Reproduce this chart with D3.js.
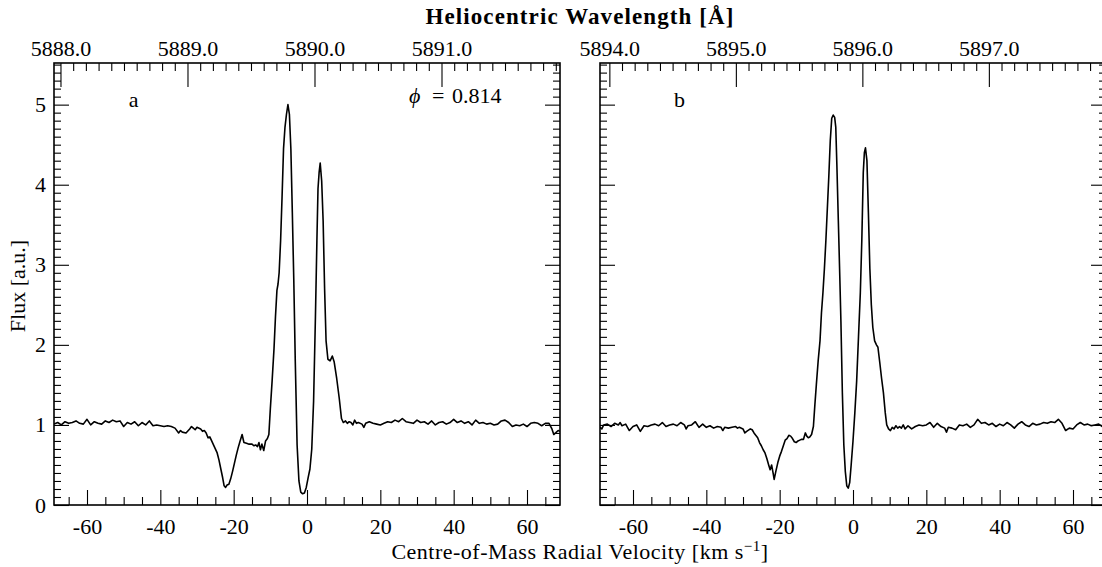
<!DOCTYPE html>
<html><head><meta charset="utf-8">
<script src="https://cdn.jsdelivr.net/npm/d3@7"></script>
<style>
body{margin:0;background:#fff}
svg{display:block}
text{font-family:"Liberation Serif","Times New Roman",serif;fill:#000}
</style>
</head><body><svg id="c" width="1102" height="567"></svg>
<script>
// ---------------- data ----------------
const velTicks = [-60,-40,-20,0,20,40,60];
const fluxTicks = [0,1,2,3,4,5];
const wlTicksA = [5888.0,5889.0,5890.0,5891.0];
const wlTicksB = [5894.0,5895.0,5896.0,5897.0];
const velDomain = [-69,69];
const fluxDomain = [0,5.52];
const wlDomainA = [5887.949,5891.933];
const wlDomainB = [5893.926,5897.926];

const velA = [-69,-68,-67,-66,-65,-64,-63,-62,-61,-60,-59,-58,-57,-56,-55,-54,-53,-52,-51,-50,-49,-48,-47,-46,-45,-44,-43,-42,-41,-40,-39,-38,-37,-36,-35,-34.5,-34,-33,-32,-31.5,-31,-30.5,-30,-29,-28.5,-28,-27.5,-27,-26.5,-26,-25,-24.5,-24,-23.5,-23,-22.6,-22.2,-21.8,-21.3,-20.8,-20.3,-19.8,-19.3,-18.8,-18.3,-17.7,-17.2,-16.5,-15.8,-15,-14.5,-14,-13.5,-13.1,-12.7,-12.3,-11.8,-11.3,-10.8,-10.4,-10.0,-9.5,-9.0,-8.6,-8.2,-7.9,-7.6,-7.2,-6.8,-6.4,-6.0,-5.6,-5.2,-4.8,-4.4,-4.0,-3.6,-3.2,-2.7,-2.2,-1.7,-1.2,-0.7,-0.2,0.3,0.8,1.3,1.8,2.3,2.7,3.0,3.3,3.6,4.0,4.4,4.8,5.2,5.7,6.3,6.9,7.4,8.1,8.8,9.4,9.9,10.5,11,11.5,12,12.5,13,13.5,14,15,15.5,16,17,18,19,20,21,22,23,24,25,26,27,28,29,30,31,32,33,34,35,36,37,38,39,40,41,42,43,44,45,46,47,48,49,50,51,52,53,54,55,56,57,58,59,60,61,62,63,64,65,66,66.8,67.3,67.8,68.5,69];
const fluxA = [1.01,1.03,1.00,1.04,1.02,1.03,1.05,1.02,1.01,1.07,1.00,1.04,1.02,1.01,1.05,1.03,1.06,1.04,1.05,0.98,1.03,1.01,1.04,0.99,1.03,1.00,1.05,0.99,1.00,0.99,0.98,0.99,0.98,0.96,0.90,0.93,0.91,0.90,0.95,0.98,0.96,0.94,0.97,0.95,0.92,0.93,0.90,0.84,0.85,0.80,0.70,0.65,0.56,0.45,0.34,0.24,0.22,0.25,0.26,0.33,0.42,0.52,0.62,0.71,0.79,0.88,0.78,0.77,0.76,0.76,0.74,0.75,0.73,0.78,0.69,0.76,0.68,0.80,0.83,0.88,1.20,1.56,1.95,2.35,2.68,2.76,2.90,3.30,3.85,4.45,4.72,4.88,5.00,4.88,4.45,3.65,2.80,1.80,0.75,0.30,0.16,0.14,0.15,0.22,0.34,0.45,0.70,1.30,2.35,3.30,3.95,4.15,4.27,4.05,3.55,2.70,2.05,1.82,1.80,1.86,1.79,1.58,1.33,1.08,1.03,1.05,1.02,1.04,1.03,1.00,1.06,1.02,1.03,1.01,0.97,1.02,1.04,1.02,1.01,1.00,1.02,1.04,1.03,1.06,1.04,1.08,1.04,1.03,1.02,1.06,1.03,1.04,1.01,1.05,1.00,1.03,1.04,1.01,1.03,1.07,1.03,1.05,1.02,1.04,1.00,1.06,1.02,1.03,1.01,1.02,1.00,1.01,1.05,1.06,1.03,0.98,1.00,0.99,1.01,0.98,1.02,1.03,1.02,0.99,1.02,1.02,0.95,0.88,0.90,0.93,0.92];

const velB = [-69,-68.5,-68,-67,-66,-65,-64,-63.5,-63,-62,-61,-60,-59,-58,-57,-56,-55,-54,-53,-52,-51,-50,-49,-48,-47,-46,-45.5,-45,-44,-43,-42,-41,-40,-39,-38,-37,-36,-35.5,-35,-34,-33,-32,-31.5,-31,-30,-29.5,-29,-28,-27.5,-27,-26,-25.5,-25,-24.5,-24,-23.5,-23,-22.6,-22.2,-21.8,-21.5,-21.0,-20.5,-20,-19.5,-19,-18.5,-18,-17.5,-17,-16.5,-16,-15.5,-15,-14.5,-14,-13.5,-13,-12.6,-12.2,-11.8,-11.3,-10.8,-10.4,-10.0,-9.5,-9.0,-8.6,-8.2,-7.8,-7.4,-7.0,-6.6,-6.2,-5.8,-5.4,-5.0,-4.7,-4.4,-4.0,-3.6,-3.3,-2.9,-2.5,-2.1,-1.7,-1.3,-0.9,-0.5,0.0,0.5,1.0,1.5,2.0,2.4,2.8,3.1,3.4,3.8,4.2,4.6,5.0,5.4,5.9,6.4,6.8,7.3,7.8,8.3,8.8,9.2,9.7,10.2,10.7,11.2,11.7,12.2,12.7,13.2,13.7,14.2,15,15.5,16,17,18,19,20,21,22,23,24,25,25.5,26,27,28,29,30,31,32,33,34,35,36,37,38,39,40,41,42,43,44,45,46,47,48,49,50,51,52,53,54,55,56,57,58,59,60,61,62,63,64,65,66,67,68,69];
const fluxB = [0.97,0.95,1.00,1.01,0.98,1.02,1.00,1.03,0.99,1.01,0.93,0.98,1.00,0.92,0.99,0.98,1.00,1.01,0.99,1.03,0.98,1.00,1.01,0.99,1.03,1.00,0.95,0.99,1.00,1.04,0.97,1.01,0.97,0.99,0.96,0.98,0.97,0.93,0.97,0.96,0.97,0.98,0.96,0.97,0.95,0.90,0.92,0.95,0.94,0.90,0.84,0.78,0.74,0.69,0.65,0.58,0.50,0.44,0.50,0.40,0.32,0.43,0.53,0.61,0.67,0.74,0.81,0.83,0.87,0.86,0.83,0.79,0.78,0.80,0.81,0.82,0.82,0.90,0.86,0.84,0.85,0.88,0.98,1.25,1.50,1.80,2.05,2.40,2.65,2.95,3.30,3.70,4.10,4.55,4.83,4.87,4.84,4.72,4.25,3.55,2.85,2.30,1.40,0.75,0.42,0.24,0.21,0.28,0.50,0.80,1.15,1.55,2.10,2.65,3.30,4.15,4.40,4.46,4.30,3.65,2.95,2.50,2.22,2.05,2.00,1.97,1.78,1.58,1.40,1.15,1.00,0.95,0.93,0.97,0.95,0.99,0.96,0.98,0.96,1.00,0.95,0.99,0.97,0.95,0.98,1.00,0.99,1.00,1.03,0.97,1.02,0.98,0.96,0.91,0.97,0.96,0.94,1.00,0.99,1.01,0.97,1.00,1.07,1.02,1.03,1.00,1.02,0.98,1.01,0.99,1.03,1.00,0.96,1.01,1.04,1.00,0.98,1.02,1.00,1.01,1.03,1.02,1.04,1.03,1.07,1.02,0.93,0.96,0.95,1.00,1.03,1.00,1.01,0.99,1.00,1.01,0.98,1.00];

// ---------------- layout ----------------
const svg = d3.select("#c");
const T = 63, B = 505;
const FONT = '"Liberation Serif","Times New Roman",serif';
const FS = 22;
const y = d3.scaleLinear().domain(fluxDomain).range([B, T]);

const panels = [
  {l:54, r:560, vel:velA, flux:fluxA, wl:wlDomainA, wlTicks:wlTicksA, name:"a", showY:true},
  {l:600, r:1106, vel:velB, flux:fluxB, wl:wlDomainB, wlTicks:wlTicksB, name:"b", showY:false}
];

function styleAxis(g){
  g.attr("font-size",FS).attr("font-family",FONT);
  g.select(".domain").remove();
  g.selectAll(".tick line").attr("stroke","#000").attr("stroke-width",1.1);
  g.selectAll(".tick text").attr("fill","#000");
}

const minorFlux = d3.range(1,56).filter(i=>i%10!==0).map(i=>i/10);
const minorVel = d3.range(-65,70,5).filter(v=>v%20!==0);

panels.forEach((p,i)=>{
  const x = d3.scaleLinear().domain(velDomain).range([p.l,p.r]);
  const xw = d3.scaleLinear().domain(p.wl).range([p.l,p.r]);
  const minorWl = d3.range(Math.ceil(p.wl[0]*10), Math.floor(p.wl[1]*10)+1)
                    .filter(k=>k%10!==0).map(k=>k/10);

  svg.append("clipPath").attr("id","clip"+i).append("rect")
     .attr("x",p.l).attr("y",T).attr("width",p.r-p.l).attr("height",B-T);

  // bottom axis
  svg.append("g").attr("transform",`translate(0,${B})`)
     .call(d3.axisBottom(x).tickValues(velTicks).tickSize(-15).tickPadding(13).tickFormat(d=>String(d)))
     .call(styleAxis);
  svg.append("g").attr("transform",`translate(0,${B})`)
     .call(d3.axisBottom(x).tickValues(minorVel).tickSize(-8).tickFormat(""))
     .call(styleAxis);

  // top axis
  svg.append("g").attr("transform",`translate(0,${T})`)
     .call(d3.axisTop(xw).tickValues(p.wlTicks).tickSize(-24).tickPadding(7).tickFormat(d3.format(".1f")))
     .call(styleAxis);
  svg.append("g").attr("transform",`translate(0,${T})`)
     .call(d3.axisTop(xw).tickValues(minorWl).tickSize(-8).tickFormat(""))
     .call(styleAxis);

  // left axis
  svg.append("g").attr("transform",`translate(${p.l},0)`)
     .call(d3.axisLeft(y).tickValues(fluxTicks).tickSize(-15).tickPadding(8)
           .tickFormat(p.showY ? d3.format("d") : ""))
     .call(styleAxis);
  svg.append("g").attr("transform",`translate(${p.l},0)`)
     .call(d3.axisLeft(y).tickValues(minorFlux).tickSize(-7).tickFormat(""))
     .call(styleAxis);

  // right axis
  svg.append("g").attr("transform",`translate(${p.r},0)`)
     .call(d3.axisRight(y).tickValues(fluxTicks).tickSize(-15).tickFormat(""))
     .call(styleAxis);
  svg.append("g").attr("transform",`translate(${p.r},0)`)
     .call(d3.axisRight(y).tickValues(minorFlux).tickSize(-7).tickFormat(""))
     .call(styleAxis);

  // spectrum
  const line = d3.line().x(d=>x(d[0])).y(d=>y(d[1]));
  svg.append("path").datum(d3.zip(p.vel,p.flux))
     .attr("clip-path",`url(#clip${i})`)
     .attr("d",line).attr("fill","none").attr("stroke","#000")
     .attr("stroke-width",1.6).attr("stroke-linejoin","round");

  // frame
  svg.append("rect").attr("x",p.l).attr("y",T).attr("width",p.r-p.l).attr("height",B-T)
     .attr("fill","none").attr("stroke","#000").attr("stroke-width",1.6);

  // panel label
  svg.append("text").attr("x",x(-47.3)).attr("y",107)
     .attr("text-anchor","middle").attr("font-size",FS).text(p.name);
});

// phase label
const ph = svg.append("text").attr("y",103).attr("font-size",FS);
ph.append("tspan").attr("x",409).attr("font-style","italic").text("ϕ");
ph.append("tspan").attr("x",432).text("=");
ph.append("tspan").attr("x",452).text("0.814");

// titles
svg.append("text").attr("x",580).attr("y",24).attr("text-anchor","middle")
   .attr("font-size",23).attr("font-weight","bold").attr("letter-spacing",1.1)
   .text("Heliocentric Wavelength [Å]");

const xt = svg.append("text").attr("x",580).attr("y",559).attr("text-anchor","middle")
   .attr("font-size",22).attr("letter-spacing",0.5);
xt.append("tspan").text("Centre-of-Mass Radial Velocity [km s");
xt.append("tspan").attr("font-size",15).attr("dy",-8).text("−1");
xt.append("tspan").attr("dy",8).text("]");

svg.append("text").attr("transform","translate(25,286) rotate(-90)")
   .attr("text-anchor","middle").attr("font-size",FS).text("Flux [a.u.]");
</script>
</body></html>
